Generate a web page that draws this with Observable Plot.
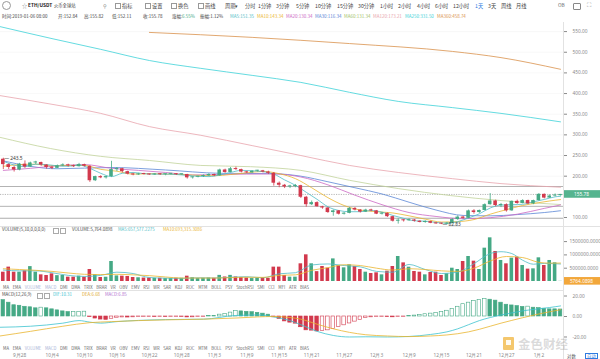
<!DOCTYPE html>
<html><head><meta charset="utf-8">
<script src="https://cdn.jsdelivr.net/npm/d3@7"></script>
<script src="https://cdn.jsdelivr.net/npm/@observablehq/plot@0.6"></script>
<style>
html,body{margin:0;padding:0;background:#fff;}
#page{position:relative;width:600px;height:359px;overflow:hidden;font-family:"Noto Sans CJK SC","Noto Sans",sans-serif;color:#333;}
.t{position:absolute;white-space:nowrap;line-height:1;}
.panel{position:absolute;left:0;}
.panel svg{display:block;overflow:visible;}
.sep{position:absolute;background:#e2e2e2;}
.box{position:absolute;border:0.6px solid #aaa;width:4px;height:4px;}
</style></head><body><div id="page"></div>
<script>
// ---------- DATA (ETH/USDT daily, Huobi, from 2018-09-25 to 2019-01-06) ----------
const firstDay = "2018-09-25";
const opens  = [241,228,221,215,229,222,232,233,227,221,219,225,227,225,223,228,224,189,199,196,199,216,218,211,205,203,205.5,204,203,204.5,203.5,204.5,205.5,203.5,204,196,197.5,199,201,204,201,215,209,218,216,210,208,212,213,210,207,183,178,174,175,177,149,131,136,126,123,112,116,108,110,122,118,113,118,116,108,110,102,91,93,92,94,91,88,90,86,84.5,84,86,95,101,98,116,112,117,131,140,129,131,116,139,134,141,133,141,156,147,152,152.84];
const highs  = [243.5,230,224,231,237,234,236,234,228,224,227,230,229,227,231,229,225,200,201,200,236,221,219,212,207,207,207,205,206,206,205,206,206,205,204.5,198,200,203,206,205,217,217,221,222,217,212,213,214,214,212,209,186,180,178,180,178,151,140,138,127,124,118,117,112,124,124,119,120,120,117,112,111,103,97,95,97,95,92,92,91,87,86,88,97,104,103,118,119,118,133,158,142,134,133,140,142,143,142,142,158,157,155,157,155.82];
const lows   = [216,216,210,213,219,221,228,224,217,216,218,223,222,221,222,222,185,187,194,193,197,211,208,203,201,202,203,202,202,202,201,203,202,202,193,193,196,197,199,199,200,207,208,214,208,206,207,210,208,204,176,172,170,170,172,146,125,129,125,120,110,103,106,106,109,116,111,112,114,107,106,100,89,84,89,91,89,87,86,85,83.5,82.83,83,85,93,96,97,108,110,116,130,126,124,113,115,132,133,131,131,140,145,146,150,152.11];
const closes = [228,221,215,229,222,232,233,227,221,219,225,227,225,223,228,224,189,199,196,199,216,218,211,205,203,205.5,204,203,204.5,203.5,204.5,205.5,203.5,204,196,197.5,199,201,204,201,215,209,218,216,210,208,212,213,210,207,183,178,174,175,177,149,131,136,126,123,112,116,108,110,122,118,113,118,116,108,110,102,91,93,92,94,91,88,90,86,84.5,84,86,95,101,98,116,112,117,131,140,129,131,116,139,134,141,133,141,156,147,152,152.84,155.78];
// volume in thousands of ETH
const volumesK = [350,540,350,350,400,560,350,250,226,288,220,226,163,163,200,160,451,250,150,160,752,210,200,190,150,140,130,130,120,120,110,110,120,120,200,140,110,120,130,120,230,170,230,170,150,130,110,120,130,120,540,540,226,163,163,665,1003,665,370,564,500,850,590,514,627,564,451,350,300,326,250,388,564,940,700,538,376,350,250,338,350,226,290,500,451,752,940,764,451,1253,1642,1128,790,665,877,915,602,465,476,890,602,790,702,5.7640898];
const macdHist = [16,13.5,11,10.5,9.5,9,8,8.6,8,7, 6,5,4.4,4.5,4.6,4.7,-0.6,-2,-3,-3.3, -2.2,-1.2,-0.9,-1,-0.8,-0.6,-0.5,-0.4,-0.5,-0.4, -0.5,-0.4,-0.3,-0.4,-0.9,-0.8,-0.6,-0.3,0.3,0.5, 1.8,2.6,3.8,5.4,5,4.6,4.2,3.6,2.8,1.8, -0.8,-2.4,-4.8,-6,-7,-10.5,-13.5,-13.8,-14.6,-14.2, -13.5,-12,-10.2,-8.6,-6.8,-5,-3.2,-1.6,-0.8,-0.6, -0.5,-0.6,-0.8,-0.5,-0.3,0.4,0.9,1.6,2.2,2.8, 3.4,4.2,5.6,7.5,9.5,12,13.5,15,16,17, 16.4,15.5,13.5,11.5,10.8,10.2,9.4,9.6,8.6,8.2, 7.6,7,7,6.85];
// moving averages: [day index, value]
const ma5 = [[0,236],[2,227],[4,223],[6,229],[8,228],[10,225],[12,224],[14,227],[16,219],[18,207],[20,199],[22,207],[24,209],[26,206],[28,205],[30,205],[32,204],[34,202],[36,199.6],[38,199],[40,203],[42,209],[44,214],[46,213],[48,211],[50,205],[52,191],[54,178],[56,161],[58,144],[60,126],[62,117],[64,114],[66,114],[68,117],[70,113],[72,105],[74,98],[76,92],[78,91],[80,88],[82,86],[84,90],[86,99],[88,109],[90,123],[92,130],[94,131],[96,132],[98,138],[100,143.6],[102,150],[103,151.35]];
const ma10 = [[0,224],[3,228],[6,229],[9,225],[12,226],[15,226],[18,216.5],[21,212],[24,205],[27,206],[30,205],[33,204],[36,202],[39,201],[42,204],[45,208],[48,211.5],[51,206],[54,194],[57,172],[60,148],[63,129],[66,118],[69,114],[72,111],[75,104],[78,96],[81,89],[84,90],[87,95],[90,108],[93,119],[96,129],[99,136],[101,140],[103,143.34]];
const ma20 = [[0,214],[5,219],[10,225],[15,228],[20,219],[25,214],[30,209],[35,203],[40,204],[45,205],[50,205.5],[55,198],[60,179],[65,154],[70,131],[75,112],[80,102.5],[85,97],[90,99.5],[95,108],[100,122],[103,130.34]];
const ma30 = [[0,237],[10,218],[20,221],[30,215],[40,207],[50,206],[55,200],[60,186.5],[65,172],[70,157],[75,137],[80,118],[85,105],[90,104],[95,107],[100,112],[103,116.34]];
const ma60 = [[-0.6,294],[8.7,267],[18,248],[27,238],[36.5,226],[45.7,223],[55,214],[64,190],[73,170],[82.7,153],[92,141],[103,131.34]];
const ma120 = [[-0.6,395],[9,374],[18,352],[27,320],[36.5,299],[46,274],[55,250],[64,226],[73,209],[83,194],[92,182],[103,173.21]];
const ma250 = [[-0.6,562],[9,533],[18,507],[27,480],[36.5,461],[46,444],[55,427],[64,403],[73,381],[83,366],[92,352],[103,331.5]];
const ma360 = [[27,548],[46,536],[64,521],[83,502],[92,487],[103,458.74]];
const volMa5K = [[0,430],[3,400],[6,400],[9,330],[12,230],[15,190],[18,230],[21,350],[24,300],[27,150],[30,125],[33,115],[36,140],[39,130],[42,160],[45,180],[48,140],[51,290],[54,330],[57,620],[60,660],[63,600],[66,550],[69,380],[72,350],[75,640],[78,450],[81,300],[84,350],[87,670],[90,1050],[92,1120],[94,1050],[96,800],[98,650],[100,680],[103,658]];
const volMa10K = [[0,480],[3,450],[6,420],[9,380],[12,320],[15,270],[18,260],[21,270],[24,250],[27,220],[30,170],[33,130],[36,130],[39,130],[42,145],[45,160],[48,155],[51,230],[54,250],[57,420],[60,520],[63,630],[66,600],[69,500],[72,430],[75,480],[78,450],[81,400],[84,380],[87,500],[90,770],[93,940],[96,900],[99,720],[101,690],[103,693]];
const dif = [[-0.6,-10.5],[5,-9.5],[11,-6.5],[14,-4],[16,-5.5],[18,-6.5],[21,-5],[25,-3.8],[30,-3],[37,-2.6],[43,1],[47,1.5],[50,-0.4],[53,-4],[55,-8],[58,-14.5],[61,-18.5],[64,-20],[67,-19.8],[71,-20],[75,-19.5],[79,-17.5],[82,-15],[84,-12],[86,-8],[88,-4],[90,-1],[92,1.5],[94,3.5],[96,5.5],[99,7.5],[101,8.8],[103,10.31]];
const dea = [[-0.6,-19],[5,-14.5],[11,-9.5],[16,-6],[20,-5],[25,-4],[30,-3.3],[37,-2.6],[43,-1.5],[47,-0.4],[50,0],[53,-1],[55,-2.6],[58,-7.5],[61,-12],[64,-15.5],[67,-17.8],[71,-19],[75,-19.6],[79,-19],[82,-18],[84,-16.8],[86,-15],[88,-12.5],[90,-9.5],[92,-6.5],[94,-3.8],[96,-1.2],[99,2.5],[101,4.6],[103,6.68]];
// 150.00 is hidden under the last-price badge in the reference
const priceTicks = [100,200,250,300,350,400,450,500,550];
const volTicks = [500000,1000000,1500000];
const macdTicks = [-20,0,20];
const dateTicks = ["2018-09-28","2018-10-04","2018-10-10","2018-10-16","2018-10-22","2018-10-28","2018-11-03","2018-11-09","2018-11-15","2018-11-21","2018-11-27","2018-12-03","2018-12-09","2018-12-15","2018-12-21","2018-12-27","2019-01-02"];
const drawnLevels = [175, 127, 98];
const extremes = [{i:0, v:243.5, label:"243.5"}, {i:81, v:82.83, label:"82.83"}];
const maColors = {ma5:"#4fbcc6", ma10:"#eab52f", ma20:"#cc68c4", ma30:"#5b86d6", ma60:"#c2d39b", ma120:"#e8a4ad", ma250:"#3dd2d8", ma360:"#d9924c"};

// ---------- helpers ----------
const DAY = 86400000;
const t0 = Date.parse(firstDay + "T00:00:00Z");
const day = i => new Date(t0 + i * DAY + DAY / 2);
const UP = "#45a985", DN = "#d2394d";
const xDomain = [day(-0.52), day(103.55)];
const rows = opens.map((o, i) => {
  const c = closes[i];
  const lo = Math.min(o, c);
  return {t: day(i), x1: day(i - 0.33), x2: day(i + 0.33), o, c, h: highs[i], l: lows[i],
    up: c >= o, bLo: lo, bHi: Math.max(o, c, lo + 2.4), vol: volumesK[i] * 1000,
    hist: macdHist[i], hollow: i > 0 && macdHist[i] > macdHist[i - 1]};
});
const last = rows[rows.length - 1];
const page = document.getElementById("page");
function txt(x, y, s, size, color, extra = "") {
  const d = document.createElement("div");
  d.className = "t";
  d.style.cssText = `left:${x}px;top:${y}px;font-size:${size}px;color:${color};${extra}`;
  d.textContent = s;
  page.appendChild(d);
  return d;
}
function el(cls, css) { const d = document.createElement("div"); d.className = cls; d.style.cssText = css; page.appendChild(d); return d; }
const baseStyle = {fontFamily: "'Noto Sans', sans-serif", fontSize: "4.8px", color: "#8a8a8a", background: "transparent", overflow: "visible"};
const lineMark = (arr, color, k = 1) => Plot.line(arr, {x: d => day(d[0]), y: d => d[1] * k, stroke: color, strokeWidth: 0.8, curve: "monotone-x"});
function mapY(chart, v) { const s = chart.scale("y"); return s.range[0] + (v - s.domain[0]) / (s.domain[1] - s.domain[0]) * (s.range[1] - s.range[0]); }
function badge(chart, v, label, color) {
  const svg = d3.select(chart);
  const y = mapY(chart, v);
  svg.append("rect").attr("x", 563).attr("y", y - 3.8).attr("width", 37).attr("height", 7.6).attr("fill", color);
  svg.append("text").attr("x", 581.5).attr("y", y).attr("dy", "0.35em").attr("text-anchor", "middle").attr("fill", "#fff").attr("font-size", 4.8).text(label);
}

// ---------- price panel ----------
const price = Plot.plot({
  width: 600, height: 204, marginLeft: 0, marginRight: 37, marginTop: 0, marginBottom: 0,
  x: {type: "utc", domain: xDomain, axis: null},
  y: {domain: [78.2, 572], axis: "right", ticks: priceTicks, tickFormat: d => d.toFixed(2), tickSize: 3, tickPadding: 6, label: null},
  style: baseStyle,
  marks: [
    Plot.ruleY(priceTicks, {stroke: "#f3f3f3", strokeWidth: 0.6}),
    Plot.ruleY(drawnLevels, {stroke: "#a0a0a0", strokeWidth: 0.8}),
    Plot.ruleY([last.c], {stroke: "#9a9a9a", strokeWidth: 0.7, strokeDasharray: "1.2,1.2"}),
    lineMark(ma360, maColors.ma360), lineMark(ma250, maColors.ma250), lineMark(ma120, maColors.ma120), lineMark(ma60, maColors.ma60),
    lineMark(ma30, maColors.ma30), lineMark(ma20, maColors.ma20), lineMark(ma10, maColors.ma10), lineMark(ma5, maColors.ma5),
    Plot.ruleX(rows, {x: "t", y1: "l", y2: "h", stroke: d => d.up ? UP : DN, strokeWidth: 0.8}),
    Plot.rect(rows, {x1: "x1", x2: "x2", y1: "bLo", y2: "bHi", fill: d => d.up ? UP : DN}),
    Plot.text(extremes, {x: d => day(d.i), y: "v", text: d => "— " + d.label, textAnchor: "start", dx: 1, fill: "#333", fontSize: 4.8})
  ]
});
const pp = el("panel", "top:22px;width:600px;height:204px;");
pp.appendChild(price);
badge(price, last.c, last.c.toFixed(2), "#55b48f");

// ---------- volume panel ----------
const vol = Plot.plot({
  width: 600, height: 58, marginLeft: 0, marginRight: 37, marginTop: 0, marginBottom: 0,
  x: {type: "utc", domain: xDomain, axis: null},
  y: {domain: [-113000, 2068000], axis: "right", ticks: volTicks, tickFormat: d => d.toFixed(4), tickSize: 3, tickPadding: 3, label: null},
  style: baseStyle,
  marks: [
    Plot.rect(rows, {x1: "x1", x2: "x2", y1: 0, y2: "vol", fill: d => d.up ? UP : DN}),
    lineMark(volMa5K, maColors.ma5, 1000), lineMark(volMa10K, maColors.ma10, 1000)
  ]
});
const vp = el("panel", "top:226px;width:600px;height:58px;");
vp.appendChild(vol);
badge(vol, last.vol, "5764.0898", "#f2a73b");

// ---------- MACD panel ----------
const macd = Plot.plot({
  width: 600, height: 68, marginLeft: 0, marginRight: 37, marginTop: 0, marginBottom: 14,
  x: {type: "utc", domain: xDomain, ticks: dateTicks.map(s => new Date(s + "T12:00:00Z")), tickFormat: d => `${d.getUTCMonth() + 1}月${d.getUTCDate()}`, tickSize: 0, tickPadding: 8, label: null},
  y: {domain: [-28.3, 24.4], axis: "right", ticks: macdTicks, tickFormat: d => d.toFixed(2), tickSize: 3, tickPadding: 6, label: null},
  style: baseStyle,
  marks: [
    Plot.rect(rows, {x1: "x1", x2: "x2", y1: 0, y2: "hist", fill: d => d.hollow ? "#fff" : (d.hist >= 0 ? UP : DN), stroke: d => d.hist >= 0 ? UP : DN, strokeWidth: 0.6}),
    lineMark(dif, "#3cc3cf"), lineMark(dea, "#eab52f")
  ]
});
const mp = el("panel", "top:291px;width:600px;height:68px;");
mp.appendChild(macd);

// ---------- chrome ----------
el("sep", "left:563px;top:22px;width:0.8px;height:337px;");
el("sep", "left:0;top:226px;width:600px;height:0.8px;");
el("sep", "left:0;top:290px;width:563px;height:0.8px;");

// toolbar
const tb = 2.5, ts = 5.2;
el("t", "left:2px;top:1px;width:7px;height:7px;border:1px solid #999;border-radius:50%;");
txt(22, tb, "☆", ts, "#888");
txt(28, tb + 0.2, "ETH/USDT", 4.8, "#222", "font-weight:600;");
txt(54, tb + 0.3, "火币全球站", 4.3, "#333");
txt(103, tb, "⚲", ts, "#777");
[["指标",115],["设置",145],["换色",171],["画线",198]].forEach(([s, x]) => { el("box", `left:${x}px;top:3px;border-color:#999;`); txt(x + 7, tb, s, ts, "#444"); });
txt(225, tb, "周期▾", ts, "#444");
[["分时",245],["1分钟",258],["3分钟",276],["5分钟",296],["10分钟",315],["15分钟",337],["30分钟",358],["1小时",380],["2小时",398],["4小时",417],["6小时",435],["12小时",453],["1天",475],["3天",488],["周线",501],["月线",516]]
  .forEach(([s, x]) => txt(x, tb, s, ts, s === "1天" ? "#2f7be0" : "#444"));
txt(558, tb, "OB", 4.8, "#666");
el("box", "left:573px;top:2.5px;width:6px;height:5px;border-color:#888;border-radius:1px;");
txt(587, 1.5, "⛶", 6, "#888");

// info line
const il = 14.2, is = 4.5;
const info = [["时间:2019-01-06 08:00",2,"#444"],["开:152.84",58,"#444"],["高:155.82",84,"#444"],["低:152.11",112,"#444"],["收:155.78",143,"#444"]];
info.forEach(([s, x, c]) => txt(x, il, s, is, c));
txt(172, il, "涨幅:", is, "#444"); txt(182, il, "6.55%", is, UP);
txt(200, il, "振幅:1.12%", is, "#444");
[["MA5:151.35",230,maColors.ma5],["MA10:143.34",257,maColors.ma10],["MA20:130.34",286,maColors.ma20],["MA30:116.34",315,maColors.ma30],["MA60:131.34",344,"#9fbf6a"],["MA120:173.21",373,maColors.ma120],["MA250:331.50",405,maColors.ma250],["MA360:458.74",437,maColors.ma360]]
  .forEach(([s, x, c]) => txt(x, il, s, is, c));

// volume header
const vh = 227.3;
txt(2, vh, "VOLUME(5,10,0,0,0,0)", 4.4, "#444");
el("box", "left:53px;top:228px;width:3.5px;height:3.5px;"); el("box", "left:60px;top:228px;width:3.5px;height:3.5px;");
txt(72, vh, "VOLUME:5,764.0898", 4.4, "#444");
txt(118, vh, "MA5:657,577.2275", 4.4, maColors.ma5);
txt(163, vh, "MA10:693,315.3086", 4.4, maColors.ma10);

// MACD header
const mh = 292.2;
txt(2, mh, "MACD(12,26,9)", 4.4, "#444");
el("box", "left:37px;top:293px;width:3.5px;height:3.5px;"); el("box", "left:44px;top:293px;width:3.5px;height:3.5px;");
txt(53, mh, "DIF:10.31", 4.4, "#3cc3cf");
txt(82, mh, "DEA:6.68", 4.4, "#e0a82a");
txt(105, mh, "MACD:6.85", 4.4, "#b070d0");

// indicator tab rows
const tabs = ["MA","EMA","VOLUME","MACD","DMI","DMA","TRIX","BRAR","VR","OBV","EMV","RSI","WR","SAR","KDJ","ROC","MTM","BOLL","PSY","StochRSI","SMI","CCI","MFI","ATR","BIAS"];
function tabRow(y) {
  const r = el("t", `left:3px;top:${y}px;font-size:4.2px;display:flex;gap:3.7px;color:#666;`);
  tabs.forEach(s => { const sp = document.createElement("span"); sp.textContent = s; if (s === "VOLUME" || s === "MACD") sp.style.color = "#a9b3d6"; r.appendChild(sp); });
}
tabRow(284.8);
tabRow(345.5);

// bottom-right
txt(567, 353.5, "对数", 4.4, "#555");
txt(585, 353, "自动", 4.4, "#2f7be0", "border:0.6px solid #2f7be0;padding:0 1px;");

// watermark (kept clear of the date and axis labels)
el("t", "left:503px;top:337px;width:11px;height:13px;background:#f0b43c;opacity:0.75;border-radius:1px;");
el("t", "left:506px;top:340px;width:5px;height:5px;background:#fff;opacity:0.9;");
txt(518, 337.5, "金色财经", 12.5, "rgba(150,150,150,0.35)", "font-weight:bold;");
</script></body></html>
